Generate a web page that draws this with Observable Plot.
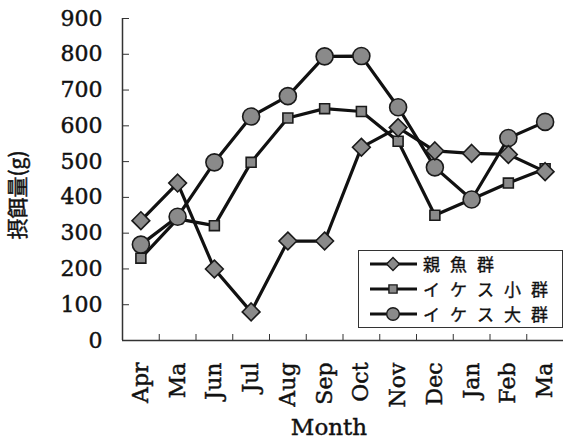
<!DOCTYPE html>
<html>
<head>
<meta charset="utf-8">
<script src="https://cdn.jsdelivr.net/npm/d3@7"></script>
<script src="https://cdn.jsdelivr.net/npm/@observablehq/plot@0.6"></script>
<style>
  html, body { margin: 0; padding: 0; background: #fff; }
  #wrap { position: relative; width: 563px; height: 441px; }
  #wrap svg text { stroke: #111; stroke-width: 0.45px; }
  #legend { position: absolute; left: 358px; top: 250px; width: 203px; height: 76px;
            border: 1.5px solid #333; background: #fff; }
  #legend .row { position: absolute; left: 10px; height: 24px; display: flex; align-items: center; }
  #legend .lab { font-family: "Noto Sans CJK JP", sans-serif; font-size: 17px; letter-spacing: 10px;
                 line-height: 24px; color: #111; margin-left: 4px; white-space: nowrap;
                 -webkit-text-stroke: 0.35px #111; }
</style>
</head>
<body>
<div id="wrap"></div>
<script>
const months = ["Apr","Ma","Jun","Jul","Aug","Sep","Oct","Nov","Dec","Jan","Feb","Ma"];
const seriesNames = ["親魚群", "イケス小群", "イケス大群"];
const oyaUo      = [335, 440, 200,  80, 278, 278, 540, 595, 530, 523, 520, 472];
const ikesuSmall = [230, 340, 321, 498, 622, 648, 640, 557, 350, 395, 440, 480];
const ikesuLarge = [268, 346, 498, 626, 683, 794, 795, 652, 484, 394, 566, 611];
const yTicks = [0, 100, 200, 300, 400, 500, 600, 700, 800, 900];

const symbols = {"親魚群": "diamond2", "イケス小群": "square", "イケス大群": "circle"};
const sizes = {"親魚群": 8, "イケス小群": 5.6, "イケス大群": 8.5};
const valuesBy = {"親魚群": oyaUo, "イケス小群": ikesuSmall, "イケス大群": ikesuLarge};
const drawOrder = ["イケス小群", "イケス大群", "親魚群"];

const serif = "'DejaVu Serif', 'Liberation Serif', serif";
const idx = months.map((_, i) => i);

const marks = [];
for (const name of drawOrder) {
  const data = valuesBy[name].map((v, i) => ({i, v}));
  marks.push(Plot.line(data, {x: "i", y: "v", stroke: "#111", strokeWidth: 3.2}));
  marks.push(Plot.dot(data, {x: "i", y: "v", symbol: () => symbols[name], r: sizes[name],
    fill: "#8a8a8a", stroke: "#1a1a1a", strokeWidth: 1.6}));
}

const chart = Plot.plot({
  width: 563,
  height: 441,
  marginLeft: 122,
  marginRight: 0,
  marginTop: 18,
  marginBottom: 101,
  style: {background: "#fff", color: "#111"},
  x: {type: "linear", domain: [-0.5, 11.5], axis: null},
  y: {domain: [0, 900], axis: null},
  marks: [
    Plot.ruleY([0], {stroke: "#333", strokeWidth: 1.5}),
    Plot.ruleX([-0.5], {stroke: "#333", strokeWidth: 1.5}),
    Plot.axisY(yTicks, {anchor: "left", tickSize: -7, tickPadding: 27, fontSize: 22,
      fontFamily: serif, label: null, stroke: "#333"}),
    Plot.axisX(idx, {anchor: "bottom", tickSize: 0, tickPadding: 22, tickRotate: -90,
      tickFormat: i => months[i], fontSize: 22, fontFamily: serif, label: null}),
    Plot.axisX(d3.range(0.5, 11, 1), {anchor: "bottom", tickSize: -6, tickFormat: () => "",
      label: null, stroke: "#333"}),
    Plot.text(["摂餌量(g)"], {frameAnchor: "left", dx: -104, dy: 60, rotate: -90,
      fontSize: 21, fontFamily: "'Noto Sans CJK JP', sans-serif", fill: "#111"}),
    Plot.text(["Month"], {frameAnchor: "bottom", dx: -14, dy: 94, fontSize: 23,
      fontFamily: serif, fill: "#111"}),
    ...marks
  ]
});

const wrap = document.getElementById("wrap");
wrap.appendChild(chart);

// Legend
const legend = document.createElement("div");
legend.id = "legend";
const rowCenters = [13, 38, 63];
const legSizes = {"親魚群": 5.8, "イケス小群": 4.6, "イケス大群": 6.3};
seriesNames.forEach((name, k) => {
  const row = document.createElement("div");
  row.className = "row";
  row.style.top = (rowCenters[k] - 12) + "px";
  const svg = d3.create("svg").attr("width", 50).attr("height", 24);
  svg.append("line").attr("x1", 1).attr("x2", 48).attr("y1", 12).attr("y2", 12)
    .attr("stroke", "#111").attr("stroke-width", 3.2);
  const symType = {"diamond2": d3.symbolDiamond2, "square": d3.symbolSquare, "circle": d3.symbolCircle}[symbols[name]];
  const r = legSizes[name];
  svg.append("path").attr("d", d3.symbol(symType, Math.PI * r * r)())
    .attr("transform", "translate(24,12)")
    .attr("fill", "#8a8a8a").attr("stroke", "#1a1a1a").attr("stroke-width", 1.4);
  row.appendChild(svg.node());
  const lab = document.createElement("span");
  lab.className = "lab";
  lab.textContent = name;
  row.appendChild(lab);
  legend.appendChild(row);
});
wrap.appendChild(legend);
</script>
</body>
</html>
